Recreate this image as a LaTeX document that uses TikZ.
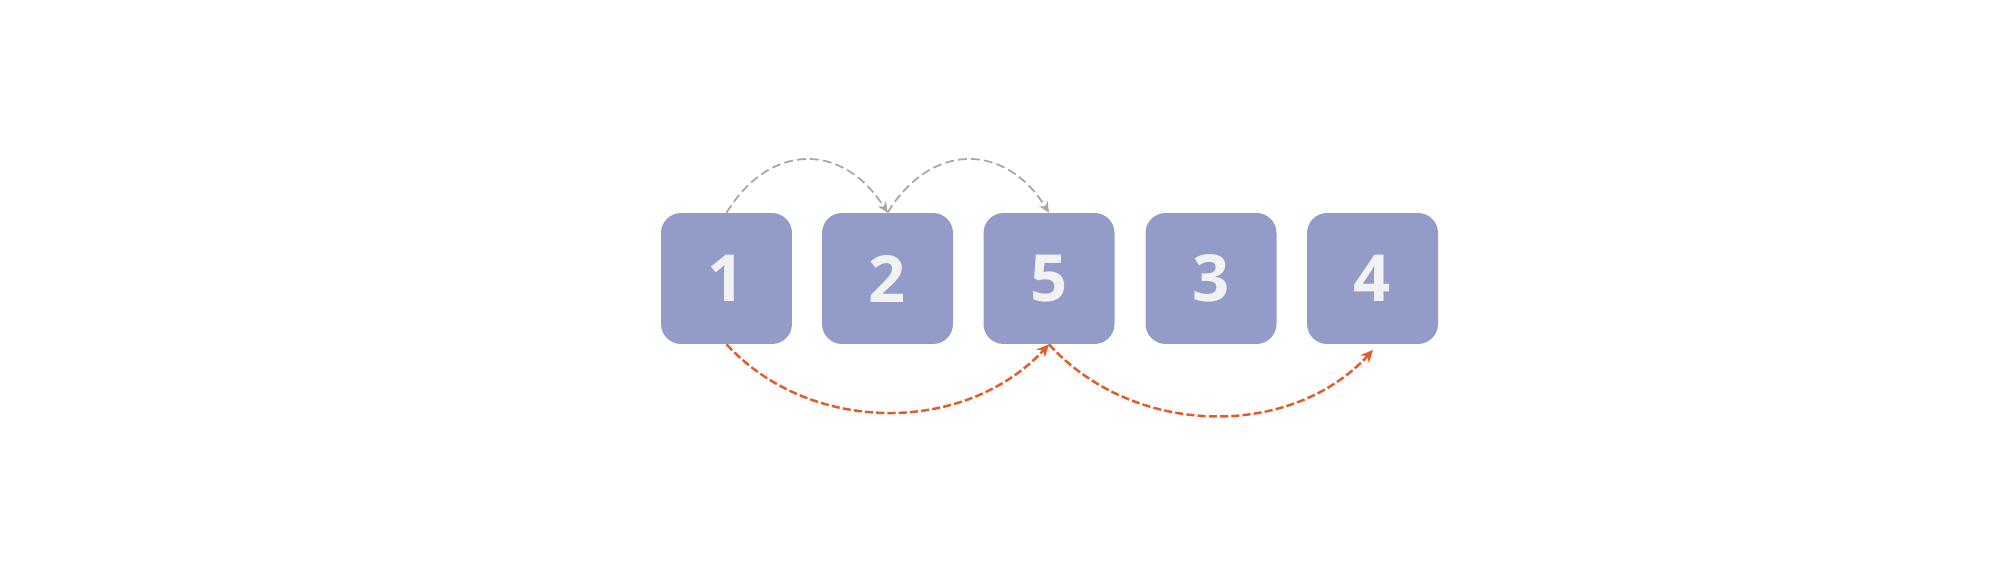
\documentclass[tikz,border=0pt]{standalone}
\usepackage{fontspec}
\setmainfont{Open Sans}
\usetikzlibrary{arrows.meta}
\definecolor{boxc}{HTML}{939CC8}
\definecolor{txtc}{HTML}{F2F2F2}
\definecolor{grayc}{HTML}{A6A6A6}
\definecolor{orc}{HTML}{E35B26}
\begin{document}
\begin{tikzpicture}[x=0.02cm,y=-0.02cm,
  numbox/.style={fill=boxc,rounded corners=0.4cm,minimum width=2.62cm,minimum height=2.62cm,inner sep=0pt,text=txtc,font=\fontsize{37}{40}\selectfont\bfseries},
  grayarc/.style={draw=grayc,line width=1pt,dash pattern=on 5pt off 2.4pt,-{Stealth[length=6pt,width=5.5pt]}},
  orarc/.style={draw=orc,line width=1.4pt,dash pattern=on 4.6pt off 1.8pt,-{Stealth[length=7pt,width=6.5pt]}}]
\useasboundingbox (0,0) rectangle (2000,563);
\node[numbox] (n1) at (726.5,278.5) {1};
\node[numbox] (n2) at (887.5,278.5) {2};
\node[numbox] (n5) at (1049,278.5) {5};
\node[numbox] (n3) at (1211,278.5) {3};
\node[numbox] (n4) at (1372.5,278.5) {4};
\coordinate (e4) at (1373,350);
\draw[grayarc] (n1.north) .. controls (770,142) and (843,142) .. (n2.north);
\draw[grayarc] (n2.north) .. controls (931,142) and (1005,142) .. (n5.north);
\draw[orarc] (n1.south) .. controls (810,435) and (965,435) .. (n5.south);
\draw[orarc] (n5.south) .. controls (1133,437) and (1290,440) .. (e4);
\end{tikzpicture}
\end{document}
